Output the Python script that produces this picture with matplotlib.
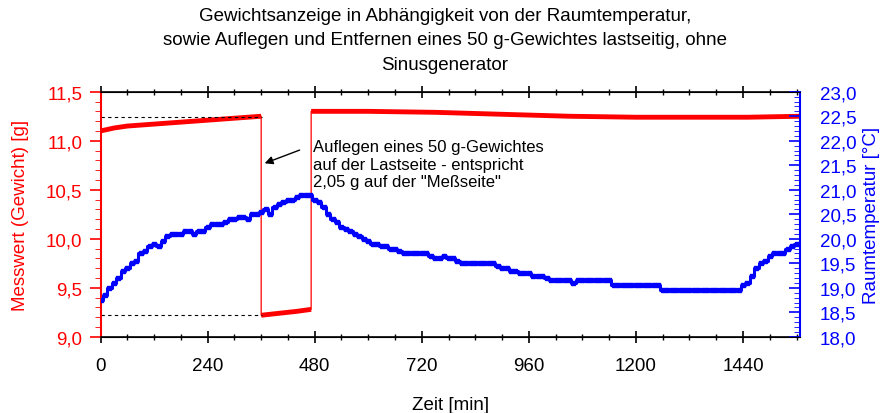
import numpy as np
import matplotlib
matplotlib.use("Agg")
import matplotlib.pyplot as plt
from matplotlib.ticker import MultipleLocator, FuncFormatter

plt.rcParams['font.family'] = ['Liberation Sans', 'DejaVu Sans']

# Gewicht (rot): drei Abschnitte
t_w1 = [0, 30, 60, 90, 120, 150, 180, 210, 240, 270, 300, 330, 360]
w1 = [11.10, 11.13, 11.15, 11.16, 11.17, 11.18, 11.19, 11.20, 11.21, 11.22, 11.23, 11.24, 11.25]
t_w2 = [360, 400, 440, 472]
w2 = [9.22, 9.24, 9.26, 9.28]
t_w3 = [472, 600, 750, 900, 1050, 1200, 1350, 1450, 1570]
w3 = [11.30, 11.30, 11.29, 11.27, 11.25, 11.24, 11.24, 11.24, 11.25]

# Raumtemperatur (blau), alle 10 min
t_temp = list(range(0, 1580, 10))
temp = [18.75, 18.85, 19.0, 19.1, 19.2, 19.35, 19.4, 19.5, 19.55, 19.7,
        19.75, 19.85, 19.9, 19.85, 19.95, 20.05, 20.1, 20.1, 20.1, 20.15,
        20.15, 20.1, 20.15, 20.15, 20.25, 20.3, 20.3, 20.3, 20.35, 20.4,
        20.4, 20.45, 20.45, 20.4, 20.5, 20.5, 20.55, 20.6, 20.5, 20.65,
        20.7, 20.75, 20.8, 20.8, 20.85, 20.9, 20.9, 20.9, 20.8, 20.75,
        20.65, 20.5, 20.4, 20.35, 20.25, 20.2, 20.15, 20.1, 20.05, 20.0,
        19.95, 19.9, 19.9, 19.85, 19.85, 19.8, 19.8, 19.75, 19.7, 19.7,
        19.7, 19.7, 19.7, 19.7, 19.65, 19.6, 19.6, 19.65, 19.6, 19.6,
        19.55, 19.5, 19.5, 19.5, 19.5, 19.5, 19.5, 19.5, 19.5, 19.45,
        19.4, 19.4, 19.35, 19.35, 19.3, 19.3, 19.3, 19.25, 19.25, 19.25,
        19.2, 19.15, 19.15, 19.15, 19.15, 19.15, 19.1, 19.15, 19.15, 19.15,
        19.15, 19.15, 19.15, 19.15, 19.15, 19.05, 19.05, 19.05, 19.05, 19.05,
        19.05, 19.05, 19.05, 19.05, 19.05, 19.05, 18.95, 18.95, 18.95, 18.95,
        18.95, 18.95, 18.95, 18.95, 18.95, 18.95, 18.95, 18.95, 18.95, 18.95,
        18.95, 18.95, 18.95, 18.95, 19.05, 19.1, 19.25, 19.4, 19.5, 19.55,
        19.65, 19.7, 19.7, 19.7, 19.8, 19.85, 19.9, 19.9]

ref_hi = 11.24
ref_lo = 9.22

komma = FuncFormatter(lambda v, p: f"{v:.1f}".replace('.', ','))

fig = plt.figure(figsize=(8.9, 4.14), dpi=100)
ax = fig.add_axes([0.113, 0.184, 0.786, 0.592])
ax2 = ax.twinx()

# rote Kurve
ax.plot(t_w1 + t_w2 + t_w3, w1 + w2 + w3, color='red', lw=0.9)
for tt, ww in [(t_w1, w1), (t_w2, w2), (t_w3, w3)]:
    ax.plot(tt, ww, color='red', lw=3.5, solid_capstyle='butt')
ax.plot([0, 362], [ref_hi, ref_hi], color='black', lw=0.8, ls=(0, (3, 3)))
ax.plot([0, 362], [ref_lo, ref_lo], color='black', lw=0.8, ls=(0, (3, 3)))

# blaue Kurve
ax2.plot(t_temp, temp, color='blue', lw=2.2, drawstyle='steps-mid',
         marker='s', ms=3.5, mec='blue', mfc='blue')

ax.set_xlim(0, 1568)
ax.set_ylim(9.0, 11.5)
ax2.set_ylim(18.0, 23.0)
ax.xaxis.set_major_locator(MultipleLocator(240))
ax.xaxis.set_minor_locator(MultipleLocator(60))
ax.yaxis.set_major_locator(MultipleLocator(0.5))
ax.yaxis.set_minor_locator(MultipleLocator(0.1))
ax2.yaxis.set_major_locator(MultipleLocator(0.5))
ax2.yaxis.set_minor_locator(MultipleLocator(0.1))
ax.yaxis.set_major_formatter(komma)
ax2.yaxis.set_major_formatter(komma)

ax.tick_params(axis='x', which='both', top=True, direction='inout', labelsize=13.5, pad=10)
ax.tick_params(axis='x', which='major', length=9, width=1.2)
ax.tick_params(axis='x', which='minor', length=5, width=1)
ax.tick_params(axis='y', which='both', direction='out', colors='red', labelsize=13.5, pad=5)
ax.tick_params(axis='y', which='major', length=8, width=1.2)
ax.tick_params(axis='y', which='minor', length=4)
ax2.tick_params(axis='y', which='both', direction='in', colors='blue', labelsize=13.5, pad=14)
ax2.tick_params(axis='y', which='major', length=8, width=1.2)
ax2.tick_params(axis='y', which='minor', length=4)

ax.spines['left'].set_color('red')
ax.spines['left'].set_linewidth(1.5)
ax2.spines['left'].set_visible(False)
ax2.spines['right'].set_color('blue')
ax2.spines['right'].set_linewidth(1.5)
ax.spines['right'].set_visible(False)
for s in ['top', 'bottom']:
    ax.spines[s].set_linewidth(1.2)

ax.set_xlabel('Zeit [min]', fontsize=13.5, labelpad=16)
ax.set_ylabel('Messwert (Gewicht) [g]', fontsize=13.5, color='red', labelpad=12)
ax2.set_ylabel('Raumtemperatur [°C]', fontsize=13.5, color='blue', labelpad=5)

fig.text(0.5, 0.98, 'Gewichtsanzeige in Abhängigkeit von der Raumtemperatur,\n'
         'sowie Auflegen und Entfernen eines 50 g-Gewichtes lastseitig, ohne\n'
         'Sinusgenerator', ha='center', va='top', fontsize=13.5, linespacing=1.55)

ax.annotate('', xy=(362, 10.76), xytext=(452, 10.915),
            arrowprops=dict(arrowstyle='-|>', color='black', lw=1, mutation_scale=12))
ax.text(476, 10.76, 'Auflegen eines 50 g-Gewichtes\nauf der Lastseite - entspricht\n'
        '2,05 g auf der "Meßseite"', fontsize=12, va='center', ha='left',
        linespacing=1.2)

fig.savefig('out.png', dpi=100)
